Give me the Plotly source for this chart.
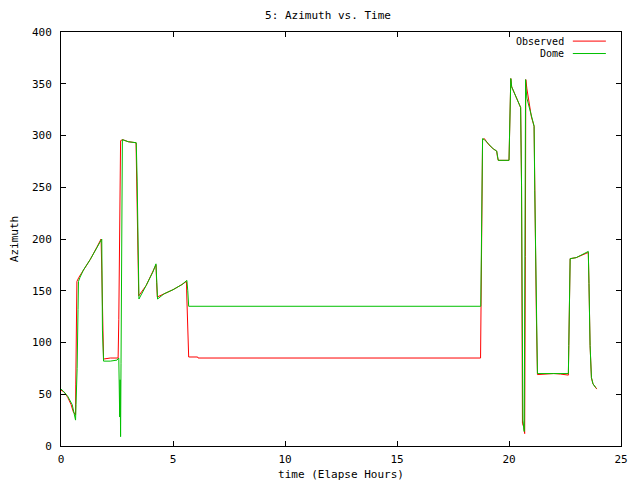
import plotly.graph_objects as go

# Observed azimuth (red)
obs_t = [0, 0.15, 0.3, 0.45, 0.55, 0.62, 0.65, 0.66, 0.68, 0.71, 0.8, 1.0, 1.3, 1.6, 1.79,
         1.82, 1.86, 1.90, 2.2, 2.55, 2.58, 2.62, 2.66, 2.75, 3.0, 3.35, 3.38, 3.42, 3.47,
         3.8, 4.1, 4.24, 4.27, 4.30, 4.6, 5.0, 5.4, 5.60, 5.62, 5.66, 5.70, 6.1, 6.12,
         18.73, 18.75, 18.78, 18.80, 18.82, 18.9, 19.1, 19.3, 19.45, 19.48, 19.52, 20.0,
         20.02, 20.05, 20.08, 20.12, 20.25, 20.4, 20.52, 20.56, 20.58, 20.60, 20.66, 20.70,
         20.73, 20.75, 20.8, 20.9, 21.0, 21.12, 21.15, 21.22, 21.27, 22.0, 22.3, 22.65,
         22.67, 22.70, 22.73, 23.0, 23.3, 23.54, 23.57, 23.62, 23.68, 23.75, 23.85, 23.92]
obs_az = [54, 52, 47, 40, 33, 30, 30, 59, 125, 159, 163, 170, 180, 192, 200,
          170, 112, 84, 85, 85, 122, 200, 295, 296, 294, 293, 256, 180, 145,
          155, 168, 175, 158, 144, 147, 151, 156, 159, 142, 105, 86, 86, 85,
          85, 130, 258, 248, 296, 297, 291, 287, 285, 280, 276, 276,
          296, 334, 355, 347, 340, 333, 327, 252, 102, 22, 18, 12,
          183, 354, 345, 330, 318, 309, 247, 128, 69, 70, 69.5, 68.5,
          97, 152, 181, 182, 185, 187, 157, 97, 66, 60, 57, 55]

# Dome azimuth (green)
dome_t = [0, 0.1, 0.3, 0.5, 0.62, 0.65, 0.67, 0.72, 0.76, 0.78, 0.85, 1.0, 1.3, 1.6, 1.79,
          1.82, 1.85, 1.90, 2.2, 2.5, 2.58, 2.60, 2.62, 2.64, 2.66, 2.68, 2.71, 2.74,
          3.0, 3.36, 3.40, 3.44, 3.48, 3.8, 4.1, 4.24, 4.28, 4.31, 4.6, 5.0, 5.4, 5.62,
          5.66, 5.70, 18.74, 18.76, 18.80, 18.82, 18.9, 19.1, 19.3, 19.45, 19.48, 19.52,
          20.0, 20.02, 20.05, 20.08, 20.12, 20.25, 20.4, 20.52, 20.56, 20.58, 20.62, 20.68,
          20.72, 20.74, 20.76, 20.8, 20.9, 21.0, 21.12, 21.15, 21.22, 21.27, 22.0, 22.65,
          22.67, 22.70, 22.73, 23.0, 23.3, 23.54, 23.57, 23.62, 23.68, 23.75, 23.85, 23.90]
dome_az = [55, 53, 48, 40, 28, 25, 40, 75, 132, 159, 163, 170, 180, 192, 200,
           200, 112, 82, 82, 83, 85, 64, 28, 64, 9, 80, 200, 296,
           294, 293, 256, 180, 142, 155, 168, 176, 158, 142, 147, 151, 156, 160,
           150, 135, 135, 175, 296, 297, 296, 291, 287, 285, 280, 276,
           276, 296, 334, 355, 347, 340, 333, 327, 252, 102, 25, 14,
           183, 354, 345, 336, 328, 318, 309, 247, 128, 70, 70, 70,
           97, 152, 181, 182, 185, 188, 157, 97, 66, 60, 57, 56]

mono = "DejaVu Sans Mono"

fig = go.Figure()
fig.add_trace(go.Scatter(x=obs_t, y=obs_az, mode="lines", name="Observed",
                         line=dict(color="#ff0000", width=1), showlegend=False))
fig.add_trace(go.Scatter(x=dome_t, y=dome_az, mode="lines", name="Dome",
                         line=dict(color="#00c000", width=1), showlegend=False))

# gnuplot style key: right aligned text, sample line to the right
key = [("Observed", "#ff0000", 0.978), ("Dome", "#00c000", 0.948)]
for label, color, yy in key:
    fig.add_annotation(x=0.9, y=yy, xref="paper", yref="paper", text=label,
                       showarrow=False, xanchor="right", yanchor="middle",
                       borderpad=0, font=dict(family=mono, size=10, color="black"))
    fig.add_shape(type="line", xref="paper", yref="paper", x0=0.914, x1=0.973,
                  y0=yy, y1=yy, line=dict(color=color, width=1))

axis_common = dict(showline=True, linecolor="black", linewidth=1, mirror="allticks",
                   ticks="inside", ticklen=5, tickcolor="black", showgrid=False,
                   zeroline=False, automargin=False,
                   tickfont=dict(family=mono, size=11, color="black"))

# page body adds an 8px offset, margins compensate for it
fig.update_layout(
    width=640, height=480,
    margin=dict(l=53, r=27, t=24, b=42),
    paper_bgcolor="white", plot_bgcolor="white",
    title=dict(text="5: Azimuth vs. Time", x=0.5, xanchor="center", y=0.985,
               yanchor="middle", font=dict(family=mono, size=11, color="black")),
    xaxis=dict(range=[0, 25], dtick=5, ticklabelstandoff=3,
               title=dict(text="time (Elapse Hours)", standoff=5,
                          font=dict(family=mono, size=11, color="black")), **axis_common),
    yaxis=dict(range=[0, 400], dtick=50, ticklabelstandoff=6,
               title=dict(text="Azimuth", standoff=16,
                          font=dict(family=mono, size=11, color="black")), **axis_common),
)

fig.write_html("out.html")
